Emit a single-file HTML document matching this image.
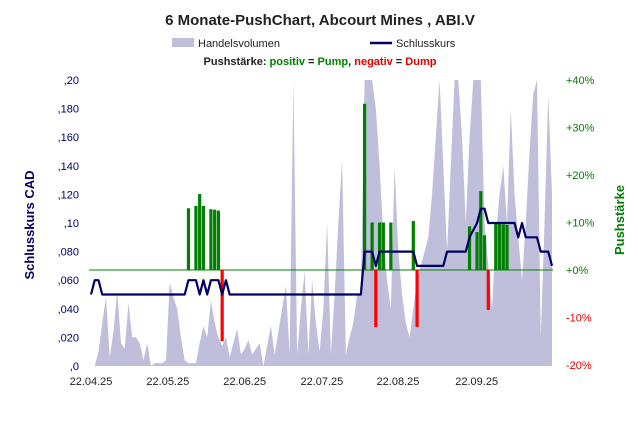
<!DOCTYPE html>
<html><head><meta charset="utf-8"><style>
body{margin:0;background:#fff;}
svg{font-family:"Liberation Sans",sans-serif;display:block}
</style></head><body>
<svg id="c" width="638" height="428" viewBox="0 0 638 428">
<text x="320" y="25" text-anchor="middle" font-size="15" font-weight="bold" fill="#222">6 Monate-PushChart, Abcourt Mines , ABI.V</text>
<g>
<rect x="172" y="38" width="22" height="9" fill="#bfbfdb"/>
<text x="198" y="47" font-size="11" fill="#222">Handelsvolumen</text>
<line x1="370" y1="43" x2="392" y2="43" stroke="#000066" stroke-width="2.5"/>
<text x="396" y="47" font-size="11" fill="#222">Schlusskurs</text>
<text x="320" y="65" text-anchor="middle" font-size="11" font-weight="bold" fill="#222">Pushstärke: <tspan fill="#008000">positiv</tspan> = <tspan fill="#008000">Pump</tspan>, <tspan fill="#e00000">negativ</tspan> = <tspan fill="#e00000">Dump</tspan></text>
</g>
<text transform="translate(34,225) rotate(-90)" text-anchor="middle" font-size="13" font-weight="bold" fill="#000066">Schlusskurs CAD</text>
<text transform="translate(624,220) rotate(-90)" text-anchor="middle" font-size="13" font-weight="bold" fill="#008000">Pushstärke</text>
<g id="plot"></g>
</svg>
<script>
const priceTicks=[0,0.02,0.04,0.06,0.08,0.10,0.12,0.14,0.16,0.18,0.20];
const priceTickLabels=[",0",",020",",040",",060",",080",",10",",120",",140",",160",",180",",20"];
const pushTicks=[-20,-10,0,10,20,30,40];
const pushTickLabels=["-20%","-10%","+0%","+10%","+20%","+30%","+40%"];
const dateLabels=["22.04.25","22.05.25","22.06.25","22.07.25","22.08.25","22.09.25"];
const dateIdx=[0,20.5,41,61.6,81.9,102.9];
const price=[
.05,.06,.06,.05,.05,.05,.05,.05,.05,.05,
.05,.05,.05,.05,.05,.05,.05,.05,.05,.05,
.05,.05,.05,.05,.05,.05,.06,.06,.06,.05,
.06,.05,.06,.06,.06,.05,.06,.05,.05,.05,
.05,.05,.05,.05,.05,.05,.05,.05,.05,.05,
.05,.05,.05,.05,.05,.05,.05,.05,.05,.05,
.05,.05,.05,.05,.05,.05,.05,.05,.05,.05,
.05,.05,.05,.08,.08,.08,.07,.08,.08,.08,
.08,.08,.08,.08,.08,.08,.08,.07,.07,.07,
.07,.07,.07,.07,.07,.08,.08,.08,.08,.08,
.08,.09,.095,.10,.11,.11,.10,.10,.10,.10,
.10,.10,.10,.10,.09,.10,.09,.09,.09,.09,
.08,.08,.08,.07];
const volume=[
0,0,.05,.15,.24,.03,.12,.26,.08,.06,
.22,.1,.1,.08,.02,.08,0,.01,.01,.01,
.02,.29,.24,.2,.1,.02,.01,.01,.01,.08,
.14,.1,.23,.15,.1,.07,.1,.03,.08,.13,
.04,.06,.09,.04,.06,.08,0,.07,.14,.04,
.12,.2,.28,.04,1.0,.04,.2,.33,.04,.3,
.15,.05,.2,.5,.04,.25,.5,.72,.04,.1,
.15,.25,.25,1.1,1.1,1.1,.9,.7,.45,.3,
.2,.7,.4,.25,.15,.1,.2,.3,.35,.4,
.45,.6,.8,1.1,.7,.4,.7,1.1,1.1,.8,
.5,.8,1.1,1.1,1.1,.5,.35,.2,.45,.6,
.7,.5,.9,.6,.45,.3,.5,.75,.95,1.1,
.1,.5,.95,.6];
const pushIdx=[26,28,29,30,32,33,34,35,73,75,76,77,78,80,86,87,101,103,104,105,106,108,109,110,111];
const pushVal=[13,13.5,16,13.5,12.8,12.7,12.5,-15,35,10,-12,10,10,10,10.3,-12,9.2,8,16.6,7.3,-8.4,9.8,9.8,9.6,9.5];

const X0=91,X1=552,YT=80,YB=366,N=124;
const x=i=>X0+i*(X1-X0)/(N-1);
const yP=v=>YB-(v/0.20)*(YB-YT);
const yV=v=>YB-Math.min(v,1.0)*(YB-YT);
const yS=p=>270-p*(270-80)/40;
const NS="http://www.w3.org/2000/svg";
const g=document.getElementById('plot');
function mk(t,a){const e=document.createElementNS(NS,t);for(const k in a)e.setAttribute(k,a[k]);g.appendChild(e);return e;}
let d=`M${x(0)},${YB}`;volume.forEach((v,i)=>d+=`L${x(i)},${yV(v)}`);d+=`L${x(volume.length-1)},${YB}Z`;
const area=mk('path',{d:d,fill:'#bfbfdb'});


const zl=mk('line',{x1:89,x2:553,y1:yS(0),y2:yS(0),stroke:'#008000','stroke-width':1});


pushIdx.forEach((ix,k)=>{const v=pushVal[k];const y0=yS(0),y1=yS(v);
const r=mk('rect',{x:x(ix)-1.6,y:Math.min(y0,y1),width:3.2,height:Math.abs(y1-y0),fill:v>=0?'#008000':'#ff0000'});

});
let pd='';price.forEach((v,i)=>pd+=(i?'L':'M')+x(i)+','+yP(v));
const pl=mk('path',{d:pd,fill:'none',stroke:'#000066','stroke-width':2.2,'stroke-linejoin':'round'});


priceTicks.forEach((v,i)=>{const t=mk('text',{x:79,y:yP(v)+4,'text-anchor':'end','font-size':11,fill:'#000066'});t.textContent=priceTickLabels[i];

});
pushTicks.forEach((v,i)=>{const t=mk('text',{x:566,y:yS(v)+4,'font-size':11,fill:v<0?'#e00000':'#008000'});t.textContent=pushTickLabels[i];

});
dateLabels.forEach((s,i)=>{const t=mk('text',{x:x(dateIdx[i]),y:385,'text-anchor':'middle','font-size':11,fill:'#222'});t.textContent=s;

});
</script>
</body></html>
